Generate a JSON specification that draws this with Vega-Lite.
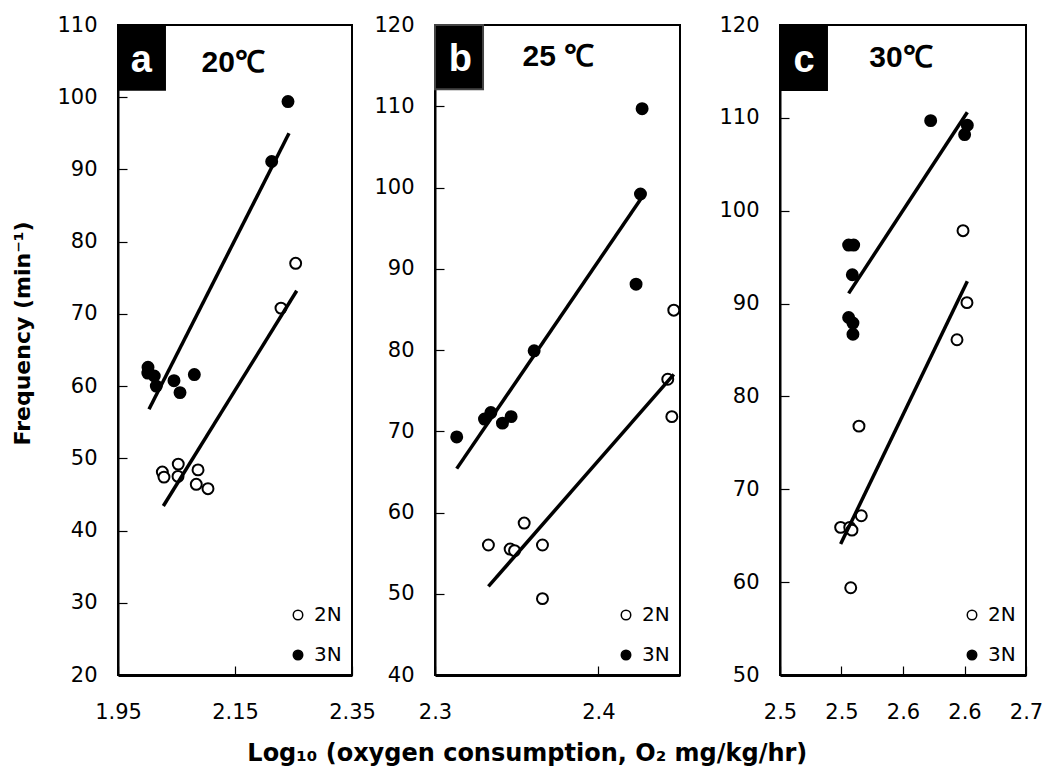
{
  "$schema": "https://vega.github.io/schema/vega-lite/v6.json",
  "padding": {"left": 10, "top": 13, "right": 5, "bottom": 5},
  "background": "white",
  "title": {"text": "Log₁₀ (oxygen consumption, O₂ mg/kg/hr)", "orient": "bottom", "anchor": "middle", "frame": "bounds", "font": "DejaVu Sans", "fontSize": 24, "fontWeight": "bold", "color": "black", "offset": 19},
  "datasets": {
    "pts_a": [
      {"ploidy": "3N", "logO2": 2.2406, "freq": 99.4},
      {"ploidy": "3N", "logO2": 2.2127, "freq": 91.1},
      {"ploidy": "3N", "logO2": 2.0013, "freq": 62.6},
      {"ploidy": "3N", "logO2": 2.001, "freq": 61.8},
      {"ploidy": "3N", "logO2": 2.012, "freq": 61.4},
      {"ploidy": "3N", "logO2": 2.0155, "freq": 60.0},
      {"ploidy": "3N", "logO2": 2.0457, "freq": 60.75},
      {"ploidy": "3N", "logO2": 2.056, "freq": 59.1},
      {"ploidy": "3N", "logO2": 2.0805, "freq": 61.6},
      {"ploidy": "2N", "logO2": 2.0258, "freq": 48.1},
      {"ploidy": "2N", "logO2": 2.0286, "freq": 47.4},
      {"ploidy": "2N", "logO2": 2.053, "freq": 49.2},
      {"ploidy": "2N", "logO2": 2.0526, "freq": 47.5},
      {"ploidy": "2N", "logO2": 2.0868, "freq": 48.4},
      {"ploidy": "2N", "logO2": 2.0838, "freq": 46.4},
      {"ploidy": "2N", "logO2": 2.1038, "freq": 45.8},
      {"ploidy": "2N", "logO2": 2.2537, "freq": 77.0},
      {"ploidy": "2N", "logO2": 2.2286, "freq": 70.8}
    ],
    "lines_a": [
      {"ploidy": "3N", "logO2": 2.003, "freq": 56.8},
      {"ploidy": "3N", "logO2": 2.2423, "freq": 95.0},
      {"ploidy": "2N", "logO2": 2.0275, "freq": 43.4},
      {"ploidy": "2N", "logO2": 2.2555, "freq": 73.2}
    ],
    "pts_b": [
      {"ploidy": "3N", "logO2": 2.4268, "freq": 109.7},
      {"ploidy": "3N", "logO2": 2.4258, "freq": 99.2},
      {"ploidy": "3N", "logO2": 2.4231, "freq": 88.1},
      {"ploidy": "3N", "logO2": 2.3607, "freq": 79.9},
      {"ploidy": "3N", "logO2": 2.3133, "freq": 69.3},
      {"ploidy": "3N", "logO2": 2.3303, "freq": 71.5},
      {"ploidy": "3N", "logO2": 2.3342, "freq": 72.3},
      {"ploidy": "3N", "logO2": 2.3413, "freq": 71.0},
      {"ploidy": "3N", "logO2": 2.3466, "freq": 71.8},
      {"ploidy": "2N", "logO2": 2.4462, "freq": 84.9},
      {"ploidy": "2N", "logO2": 2.4425, "freq": 76.4},
      {"ploidy": "2N", "logO2": 2.445, "freq": 71.8},
      {"ploidy": "2N", "logO2": 2.3546, "freq": 58.7},
      {"ploidy": "2N", "logO2": 2.3327, "freq": 56.0},
      {"ploidy": "2N", "logO2": 2.346, "freq": 55.5},
      {"ploidy": "2N", "logO2": 2.3487, "freq": 55.3},
      {"ploidy": "2N", "logO2": 2.3658, "freq": 56.0},
      {"ploidy": "2N", "logO2": 2.3658, "freq": 49.4}
    ],
    "lines_b": [
      {"ploidy": "3N", "logO2": 2.3133, "freq": 65.4},
      {"ploidy": "3N", "logO2": 2.4264, "freq": 98.7},
      {"ploidy": "2N", "logO2": 2.3327, "freq": 50.9},
      {"ploidy": "2N", "logO2": 2.4462, "freq": 77.0}
    ],
    "pts_c": [
      {"ploidy": "3N", "logO2": 2.5725, "freq": 109.7},
      {"ploidy": "3N", "logO2": 2.6023, "freq": 109.2},
      {"ploidy": "3N", "logO2": 2.6001, "freq": 108.2},
      {"ploidy": "3N", "logO2": 2.5058, "freq": 96.3},
      {"ploidy": "3N", "logO2": 2.5099, "freq": 96.3},
      {"ploidy": "3N", "logO2": 2.5088, "freq": 93.1},
      {"ploidy": "3N", "logO2": 2.5058, "freq": 88.5},
      {"ploidy": "3N", "logO2": 2.5093, "freq": 87.9},
      {"ploidy": "3N", "logO2": 2.5093, "freq": 86.7},
      {"ploidy": "2N", "logO2": 2.5988, "freq": 97.85},
      {"ploidy": "2N", "logO2": 2.602, "freq": 90.1},
      {"ploidy": "2N", "logO2": 2.5939, "freq": 86.1},
      {"ploidy": "2N", "logO2": 2.5142, "freq": 76.8},
      {"ploidy": "2N", "logO2": 2.5161, "freq": 67.15},
      {"ploidy": "2N", "logO2": 2.4993, "freq": 65.9},
      {"ploidy": "2N", "logO2": 2.5067, "freq": 65.9},
      {"ploidy": "2N", "logO2": 2.5085, "freq": 65.6},
      {"ploidy": "2N", "logO2": 2.5075, "freq": 59.4}
    ],
    "lines_c": [
      {"ploidy": "3N", "logO2": 2.5058, "freq": 91.1},
      {"ploidy": "3N", "logO2": 2.6023, "freq": 110.6},
      {"ploidy": "2N", "logO2": 2.4993, "freq": 64.1},
      {"ploidy": "2N", "logO2": 2.6023, "freq": 92.4}
    ],
    "label_a": [{"letter": "a", "temp": "20℃"}],
    "label_b": [{"letter": "b", "temp": "25 ℃"}],
    "label_c": [{"letter": "c", "temp": "30℃"}]
  },
  "spacing": 32,
  "resolve": {"scale": {"x": "independent", "y": "independent", "fill": "independent"}, "legend": {"fill": "independent"}, "axis": {"x": "independent", "y": "independent"}},
  "hconcat": [
    {
      "spacing": -5,
      "resolve": {"scale": {"x": "independent", "y": "independent", "fill": "independent"}, "legend": {"fill": "independent"}, "axis": {"x": "independent", "y": "independent"}},
      "hconcat": [
        {
          "width": 234,
          "height": 650,
          "layer": [
            {
              "data": {"name": "pts_a"},
              "mark": {"type": "point", "filled": true, "stroke": "black", "strokeWidth": 2, "size": 120, "opacity": 1},
              "encoding": {
                "x": {"field": "logO2", "type": "quantitative", "title": null, "scale": {"domain": [1.95, 2.35], "nice": false, "zero": false}, "axis": {"values": [1.95, 2.15, 2.35], "format": ".2f"}},
                "y": {"field": "freq", "type": "quantitative", "title": "Frequency (min⁻¹)", "scale": {"domain": [20, 110], "nice": false, "zero": false}, "axis": {"values": [20, 30, 40, 50, 60, 70, 80, 90, 100, 110], "titleY": 308}},
                "fill": {"field": "ploidy", "type": "nominal", "scale": {"domain": ["2N", "3N"], "range": ["white", "black"]}, "legend": {"title": null}}
              }
            },
            {
              "data": {"name": "lines_a"},
              "mark": {"type": "line", "color": "black", "strokeWidth": 3.5},
              "encoding": {
                "x": {"field": "logO2", "type": "quantitative", "title": null},
                "y": {"field": "freq", "type": "quantitative", "title": "Frequency (min⁻¹)"},
                "detail": {"field": "ploidy"}
              }
            },
            {
              "data": {"name": "label_a"},
              "mark": {"type": "rect", "fill": "black"},
              "encoding": {"x": {"datum": 1.95, "title": null}, "x2": {"datum": 2.032}, "y": {"datum": 110, "title": "Frequency (min⁻¹)"}, "y2": {"datum": 100.9}}
            },
            {
              "data": {"name": "label_a"},
              "mark": {"type": "text", "color": "white", "font": "Liberation Sans", "fontSize": 38, "fontWeight": "bold", "align": "center", "baseline": "alphabetic"},
              "encoding": {"x": {"datum": 1.990, "title": null}, "y": {"datum": 103.5, "title": "Frequency (min⁻¹)"}, "text": {"field": "letter"}}
            },
            {
              "data": {"name": "label_a"},
              "mark": {"type": "text", "color": "black", "font": "Liberation Sans", "fontSize": 30, "fontWeight": "bold", "align": "center", "baseline": "alphabetic"},
              "encoding": {"x": {"datum": 2.147, "title": null}, "y": {"datum": 103.5, "title": "Frequency (min⁻¹)"}, "text": {"field": "temp"}}
            }
          ]
        },
        {
          "width": 245,
          "height": 650,
          "layer": [
            {
              "data": {"name": "pts_b"},
              "mark": {"type": "point", "filled": true, "stroke": "black", "strokeWidth": 2, "size": 120, "opacity": 1},
              "encoding": {
                "x": {"field": "logO2", "type": "quantitative", "title": null, "scale": {"domain": [2.3, 2.45], "nice": false, "zero": false}, "axis": {"values": [2.3, 2.4], "format": ".1f"}},
                "y": {"field": "freq", "type": "quantitative", "title": null, "scale": {"domain": [40, 120], "nice": false, "zero": false}, "axis": {"values": [40, 50, 60, 70, 80, 90, 100, 110, 120]}},
                "fill": {"field": "ploidy", "type": "nominal", "scale": {"domain": ["2N", "3N"], "range": ["white", "black"]}, "legend": {"title": null}}
              }
            },
            {
              "data": {"name": "lines_b"},
              "mark": {"type": "line", "color": "black", "strokeWidth": 3.5},
              "encoding": {
                "x": {"field": "logO2", "type": "quantitative", "title": null},
                "y": {"field": "freq", "type": "quantitative", "title": null},
                "detail": {"field": "ploidy"}
              }
            },
            {
              "data": {"name": "label_b"},
              "mark": {"type": "rect", "fill": "black", "stroke": "#444444", "strokeWidth": 2},
              "encoding": {"x": {"datum": 2.3, "title": null}, "x2": {"datum": 2.3294}, "y": {"datum": 120, "title": null}, "y2": {"datum": 112.1}}
            },
            {
              "data": {"name": "label_b"},
              "mark": {"type": "text", "color": "white", "font": "Liberation Sans", "fontSize": 38, "fontWeight": "bold", "align": "center", "baseline": "alphabetic"},
              "encoding": {"x": {"datum": 2.3155, "title": null}, "y": {"datum": 114.35, "title": null}, "text": {"field": "letter"}}
            },
            {
              "data": {"name": "label_b"},
              "mark": {"type": "text", "color": "black", "font": "Liberation Sans", "fontSize": 30, "fontWeight": "bold", "align": "center", "baseline": "alphabetic"},
              "encoding": {"x": {"datum": 2.3755, "title": null}, "y": {"datum": 114.96, "title": null}, "text": {"field": "temp"}}
            }
          ]
        }
      ]
    },
    {
      "width": 246,
      "height": 650,
      "layer": [
        {
          "data": {"name": "pts_c"},
          "mark": {"type": "point", "filled": true, "stroke": "black", "strokeWidth": 2, "size": 120, "opacity": 1},
          "encoding": {
            "x": {"field": "logO2", "type": "quantitative", "title": null, "scale": {"domain": [2.45, 2.65], "nice": false, "zero": false}, "axis": {"values": [2.45, 2.5, 2.55, 2.6, 2.65], "labelExpr": "datum.value < 2.52 ? '2.5' : datum.value < 2.62 ? '2.6' : '2.7'"}},
            "y": {"field": "freq", "type": "quantitative", "title": null, "scale": {"domain": [50, 120], "nice": false, "zero": false}, "axis": {"values": [50, 60, 70, 80, 90, 100, 110, 120]}},
            "fill": {"field": "ploidy", "type": "nominal", "scale": {"domain": ["2N", "3N"], "range": ["white", "black"]}, "legend": {"title": null}}
          }
        },
        {
          "data": {"name": "lines_c"},
          "mark": {"type": "line", "color": "black", "strokeWidth": 3.5},
          "encoding": {
            "x": {"field": "logO2", "type": "quantitative", "title": null},
            "y": {"field": "freq", "type": "quantitative", "title": null},
            "detail": {"field": "ploidy"}
          }
        },
        {
          "data": {"name": "label_c"},
          "mark": {"type": "rect", "fill": "black"},
          "encoding": {"x": {"datum": 2.45, "title": null}, "x2": {"datum": 2.489}, "y": {"datum": 120, "title": null}, "y2": {"datum": 112.9}}
        },
        {
          "data": {"name": "label_c"},
          "mark": {"type": "text", "color": "white", "font": "Liberation Sans", "fontSize": 38, "fontWeight": "bold", "align": "center", "baseline": "alphabetic"},
          "encoding": {"x": {"datum": 2.4695, "title": null}, "y": {"datum": 114.9, "title": null}, "text": {"field": "letter"}}
        },
        {
          "data": {"name": "label_c"},
          "mark": {"type": "text", "color": "black", "font": "Liberation Sans", "fontSize": 30, "fontWeight": "bold", "align": "center", "baseline": "alphabetic"},
          "encoding": {"x": {"datum": 2.5484, "title": null}, "y": {"datum": 115.5, "title": null}, "text": {"field": "temp"}}
        }
      ]
    }
  ],
  "config": {
    "view": {"stroke": "black", "strokeWidth": 2},
    "axis": {"grid": false, "ticks": true, "domainColor": "black", "domainWidth": 2, "tickColor": "black", "tickSize": -9, "tickWidth": 1.2, "tickOpacity": 1, "labelFont": "DejaVu Sans", "labelFontSize": 21, "labelColor": "black", "labelPadding": 30, "titleFont": "DejaVu Sans", "titleFontSize": 22, "titleFontWeight": "bold", "titleColor": "black", "titlePadding": 22, "labelFlush": false, "labelOverlap": false, "zindex": 1},
    "axisX": {"domainWidth": 3, "labelPadding": 35},
    "legend": {"orient": "bottom-right", "labelFont": "DejaVu Sans", "labelFontSize": 20, "labelColor": "black", "symbolSize": 90, "symbolType": "circle", "symbolStrokeColor": "black", "symbolStrokeWidth": 1.5, "rowPadding": 20, "offset": 10, "padding": 0, "labelOffset": 6}
  }
}
